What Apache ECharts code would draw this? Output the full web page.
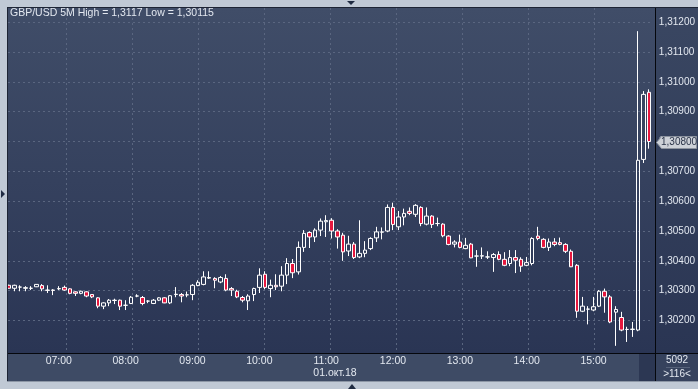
<!DOCTYPE html>
<html><head><meta charset="utf-8">
<script src="https://cdn.jsdelivr.net/npm/echarts@6/dist/echarts.min.js"></script>
<style>html,body{margin:0;padding:0;background:#c0c9d5;}#c{width:698px;height:389px;}</style>
</head><body><div id="c"></div>
<script>
const times = [
'06:15','06:20','06:25','06:30','06:35','06:40','06:45','06:50','06:55',
'07:00','07:05','07:10','07:15','07:20','07:25','07:30','07:35','07:40','07:45','07:50','07:55',
'08:00','08:05','08:10','08:15','08:20','08:25','08:30','08:35','08:40','08:45','08:50','08:55',
'09:00','09:05','09:10','09:15','09:20','09:25','09:30','09:35','09:40','09:45','09:50','09:55',
'10:00','10:05','10:10','10:15','10:20','10:25','10:30','10:35','10:40','10:45','10:50','10:55',
'11:00','11:05','11:10','11:15','11:20','11:25','11:30','11:35','11:40','11:45','11:50','11:55',
'12:00','12:05','12:10','12:15','12:20','12:25','12:30','12:35','12:40','12:45','12:50','12:55',
'13:00','13:05','13:10','13:15','13:20','13:25','13:30','13:35','13:40','13:45','13:50','13:55',
'14:00','14:05','14:10','14:15','14:20','14:25','14:30','14:35','14:40','14:45','14:50','14:55',
'15:00','15:05','15:10','15:15','15:20','15:25','15:30','15:35','15:40','15:45','15:50'];
const xTickLabels = ['07:00','08:00','09:00','10:00','11:00','12:00','13:00','14:00','15:00'];
const open = [
1.30318,1.30308,1.30312,1.30308,1.30308,1.30313,1.30317,1.30302,1.30302,1.30306,
1.30311,1.30306,1.30296,1.30291,1.30296,1.30287,1.30276,1.30248,1.30259,1.30268,
1.30268,1.30251,1.30257,1.30282,1.30277,1.30265,1.30257,1.30268,1.30276,1.30259,
1.30287,1.30287,1.30286,1.30287,1.30317,1.30321,1.30342,1.30341,1.30329,1.30341,
1.30307,1.30298,1.30277,1.30266,1.30287,1.30311,1.30355,1.30307,1.30318,1.30315,
1.30352,1.30391,1.30363,1.30445,1.30495,1.30480,1.30503,1.30531,1.30536,1.30500,
1.30486,1.30433,1.30456,1.30413,1.30425,1.30441,1.30477,1.30496,1.30500,1.30579,
1.30514,1.30547,1.30566,1.30556,1.30579,1.30523,1.30550,1.30525,1.30523,1.30483,
1.30456,1.30463,1.30441,1.30456,1.30416,1.30416,1.30413,1.30411,1.30421,1.30405,
1.30391,1.30411,1.30405,1.30385,1.30391,1.30483,1.30472,1.30445,1.30463,1.30461,
1.30455,1.30432,1.30385,1.30231,1.30238,1.30235,1.30248,1.30298,1.30279,1.30228,
1.30210,1.30170,1.30170,1.30168,1.30740,1.30965];
const close = [
1.30308,1.30318,1.30312,1.30310,1.30308,1.30321,1.30306,1.30301,1.30301,1.30307,
1.30302,1.30291,1.30291,1.30298,1.30282,1.30279,1.30248,1.30259,1.30268,1.30267,
1.30248,1.30251,1.30278,1.30282,1.30257,1.30265,1.30268,1.30276,1.30259,1.30283,
1.30288,1.30282,1.30286,1.30318,1.30328,1.30346,1.30344,1.30335,1.30344,1.30302,
1.30302,1.30279,1.30268,1.30282,1.30307,1.30352,1.30311,1.30318,1.30313,1.30352,
1.30391,1.30360,1.30445,1.30492,1.30480,1.30503,1.30533,1.30535,1.30500,1.30480,
1.30430,1.30456,1.30411,1.30425,1.30436,1.30475,1.30497,1.30497,1.30579,1.30522,
1.30547,1.30559,1.30559,1.30586,1.30525,1.30550,1.30522,1.30525,1.30484,1.30455,
1.30463,1.30445,1.30452,1.30410,1.30416,1.30417,1.30413,1.30421,1.30405,1.30385,
1.30411,1.30402,1.30382,1.30394,1.30475,1.30475,1.30445,1.30463,1.30455,1.30455,
1.30432,1.30380,1.30231,1.30248,1.30238,1.30246,1.30298,1.30279,1.30195,1.30237,
1.30168,1.30170,1.30171,1.30737,1.30958,1.30800];
const low = [
1.30307,1.30298,1.30298,1.30298,1.30302,1.30312,1.30298,1.30292,1.30285,1.30302,
1.30300,1.30288,1.30282,1.30288,1.30278,1.30275,1.30241,1.30238,1.30248,1.30255,
1.30235,1.30235,1.30255,1.30278,1.30251,1.30258,1.30255,1.30265,1.30258,1.30255,
1.30278,1.30261,1.30278,1.30268,1.30315,1.30318,1.30339,1.30308,1.30325,1.30298,
1.30282,1.30275,1.30261,1.30235,1.30265,1.30292,1.30305,1.30278,1.30302,1.30298,
1.30322,1.30342,1.30354,1.30430,1.30443,1.30463,1.30483,1.30480,1.30475,1.30441,
1.30400,1.30416,1.30406,1.30409,1.30412,1.30436,1.30463,1.30472,1.30496,1.30503,
1.30503,1.30519,1.30553,1.30547,1.30516,1.30519,1.30510,1.30516,1.30479,1.30452,
1.30445,1.30442,1.30439,1.30409,1.30380,1.30406,1.30406,1.30363,1.30402,1.30382,
1.30382,1.30359,1.30363,1.30382,1.30385,1.30469,1.30442,1.30433,1.30449,1.30452,
1.30426,1.30379,1.30209,1.30228,1.30187,1.30231,1.30245,1.30226,1.30191,1.30115,
1.30164,1.30128,1.30145,1.30164,1.30728,1.30776];
const high = [
1.30320,1.30320,1.30318,1.30315,1.30315,1.30322,1.30322,1.30318,1.30305,1.30315,
1.30317,1.30308,1.30298,1.30300,1.30298,1.30288,1.30278,1.30261,1.30272,1.30273,
1.30270,1.30268,1.30282,1.30288,1.30282,1.30268,1.30272,1.30278,1.30278,1.30285,
1.30312,1.30292,1.30297,1.30322,1.30335,1.30365,1.30365,1.30345,1.30349,1.30355,
1.30312,1.30303,1.30282,1.30288,1.30310,1.30375,1.30365,1.30337,1.30355,1.30382,
1.30409,1.30406,1.30465,1.30503,1.30499,1.30509,1.30542,1.30553,1.30543,1.30506,
1.30494,1.30484,1.30463,1.30536,1.30466,1.30479,1.30514,1.30512,1.30589,1.30595,
1.30567,1.30575,1.30579,1.30590,1.30583,1.30579,1.30553,1.30545,1.30526,1.30486,
1.30469,1.30488,1.30477,1.30460,1.30436,1.30445,1.30432,1.30426,1.30432,1.30429,
1.30436,1.30436,1.30412,1.30413,1.30479,1.30514,1.30476,1.30475,1.30476,1.30478,
1.30459,1.30438,1.30389,1.30279,1.30248,1.30279,1.30302,1.30307,1.30285,1.30248,
1.30229,1.30179,1.30195,1.31170,1.30969,1.30975];

const titleText = 'GBP/USD 5M High = 1,3117 Low = 1,30115';
const dateText = '01.окт.18';
const infoTop = '5092';
const infoBottom = '>116<';

const FONT = '"Liberation Sans", Arial, sans-serif';
const TXT = '#e3e8f0';
const ohlc = times.map((t, i) => [open[i], close[i], low[i], high[i]]);
const fmt = v => v.toFixed(5).replace('.', ',');

const chart = echarts.init(document.getElementById('c'), null, {renderer: 'canvas'});

const plotGrad = new echarts.graphic.LinearGradient(0, 0, 0, 1, [
  {offset: 0, color: '#404d68'}, {offset: 1, color: '#2a3554'}]);
const colGrad = new echarts.graphic.LinearGradient(0, 0, 0, 1, [
  {offset: 0, color: '#3a4762'}, {offset: 1, color: '#2a3553'}]);
const FRAME = '#c0c9d5';
const TRI = '#1f2b42';

const baseGraphic = [
  {type: 'rect', id: 'bgPlot', z: -10, shape: {x: 8, y: 8, width: 647, height: 345}, style: {fill: plotGrad}},
  {type: 'rect', id: 'bgCol', z: -10, shape: {x: 656, y: 8, width: 42, height: 345}, style: {fill: colGrad}},
  {type: 'rect', id: 'bgX', z: -10, shape: {x: 8, y: 354, width: 647, height: 27}, style: {fill: '#3e4b65'}},
  {type: 'rect', id: 'bgXd', z: -10, shape: {x: 639, y: 354, width: 16, height: 27}, style: {fill: '#2c3753'}},
  {type: 'rect', id: 'bgInfo', z: -10, shape: {x: 656, y: 354, width: 42, height: 27}, style: {fill: '#36425d'}},
  {type: 'rect', id: 'frL', z: 100, shape: {x: 0, y: 0, width: 7, height: 389}, style: {fill: FRAME}},
  {type: 'rect', id: 'frT', z: 100, shape: {x: 0, y: 0, width: 698, height: 7}, style: {fill: FRAME}},
  {type: 'rect', id: 'frB', z: 100, shape: {x: 0, y: 382, width: 698, height: 7}, style: {fill: FRAME}},
  {type: 'rect', id: 'bdL', z: 100, shape: {x: 7, y: 7, width: 1, height: 375}, style: {fill: '#1d2434'}},
  {type: 'rect', id: 'bdT', z: 100, shape: {x: 7, y: 7, width: 691, height: 1}, style: {fill: '#1d2434'}},
  {type: 'rect', id: 'bdB', z: 100, shape: {x: 7, y: 381, width: 691, height: 1}, style: {fill: '#8d97a6'}},
  {type: 'rect', id: 'sepV', z: 100, shape: {x: 655, y: 8, width: 1, height: 373}, style: {fill: '#05070c'}},
  {type: 'rect', id: 'sepH', z: 100, shape: {x: 8, y: 353, width: 690, height: 1}, style: {fill: '#05070c'}},
  {type: 'rect', id: 'sepI', z: 100, shape: {x: 666, y: 367, width: 24, height: 1}, style: {fill: '#56627a'}},
  {type: 'polygon', id: 'triT', z: 100, shape: {points: [[347, 1], [355, 1], [351, 5]]}, style: {fill: TRI}},
  {type: 'polygon', id: 'triL', z: 100, shape: {points: [[1, 190], [1, 198], [5, 194]]}, style: {fill: TRI}},
  {type: 'polygon', id: 'triB', z: 100, shape: {points: [[348, 389], [356, 389], [352, 384]]}, style: {fill: TRI}},
  {type: 'text', id: 'title', z: 100, x: 10, y: 13, style: {text: titleText, fill: TXT, font: '10.5px ' + FONT, verticalAlign: 'middle'}},
  {type: 'text', id: 'date', z: 100, x: 335, y: 373, style: {text: dateText, fill: TXT, font: '10.5px ' + FONT, align: 'center', verticalAlign: 'middle'}},
  {type: 'text', id: 'info1', z: 100, x: 677, y: 360, style: {text: infoTop, fill: TXT, font: '10px ' + FONT, align: 'center', verticalAlign: 'middle'}},
  {type: 'text', id: 'info2', z: 100, x: 677, y: 374, style: {text: infoBottom, fill: TXT, font: '10px ' + FONT, align: 'center', verticalAlign: 'middle'}}
];

const gridLine = {color: '#5a6680', width: 1, type: [2, 3]};

const option = {
  animation: false,
  backgroundColor: FRAME,
  grid: [
    {left: 5.9, right: 46, top: 8, bottom: 36},
    {left: 8, right: 43, top: 22.2, bottom: 68.5},
    {left: -8, right: 37.6, top: 8, bottom: 36}
  ],
  xAxis: [
    {type: 'category', gridIndex: 0, data: times, boundaryGap: true,
     axisLine: {show: false}, axisTick: {show: false}, splitLine: {show: false},
     axisLabel: {interval: (i, v) => xTickLabels.includes(v), color: TXT, fontSize: 10.5, fontFamily: FONT, margin: 3}},
    {type: 'value', gridIndex: 1, show: false, min: 0, max: 1},
    {type: 'value', gridIndex: 2, min: 0, max: 120, interval: 12,
     axisLine: {show: false}, axisTick: {show: false}, axisLabel: {show: false},
     splitLine: {show: true, showMinLine: false, showMaxLine: false, lineStyle: gridLine}}
  ],
  yAxis: [
    {type: 'value', gridIndex: 0, min: 1.30091, max: 1.312476, show: false},
    {type: 'value', gridIndex: 1, min: 1.302, max: 1.312, interval: 0.001, position: 'right',
     axisLine: {show: false}, axisTick: {show: false},
     axisLabel: {formatter: fmt, color: TXT, fontSize: 10, fontFamily: FONT, margin: 6},
     splitLine: {show: true, lineStyle: gridLine}},
    {type: 'value', gridIndex: 2, show: false, min: 0, max: 1}
  ],
  series: [{
    type: 'candlestick', xAxisIndex: 0, yAxisIndex: 0, data: ohlc, barWidth: 4,
    itemStyle: {color: 'rgba(0,0,0,0)', color0: '#e6173e', borderColor: '#ffffff', borderColor0: '#ffffff', borderWidth: 1}
  }],
  graphic: baseGraphic
};
chart.setOption(option);

const last = close[close.length - 1];
const py = Math.round(chart.convertToPixel({yAxisIndex: 0}, last)) + 0.5;
chart.setOption({graphic: [
  {type: 'polygon', id: 'pm', z: 101, shape: {points: [[656.5, py], [661.5, py - 6], [696.5, py - 6], [696.5, py + 6], [661.5, py + 6]]},
   style: {fill: '#cdd1d8', stroke: '#8c939f', lineWidth: 1}},
  {type: 'text', id: 'pmt', z: 102, x: 661, y: py, style: {text: fmt(last), fill: '#2a3348', font: '10px ' + FONT, verticalAlign: 'middle'}}
]});
</script></body></html>
